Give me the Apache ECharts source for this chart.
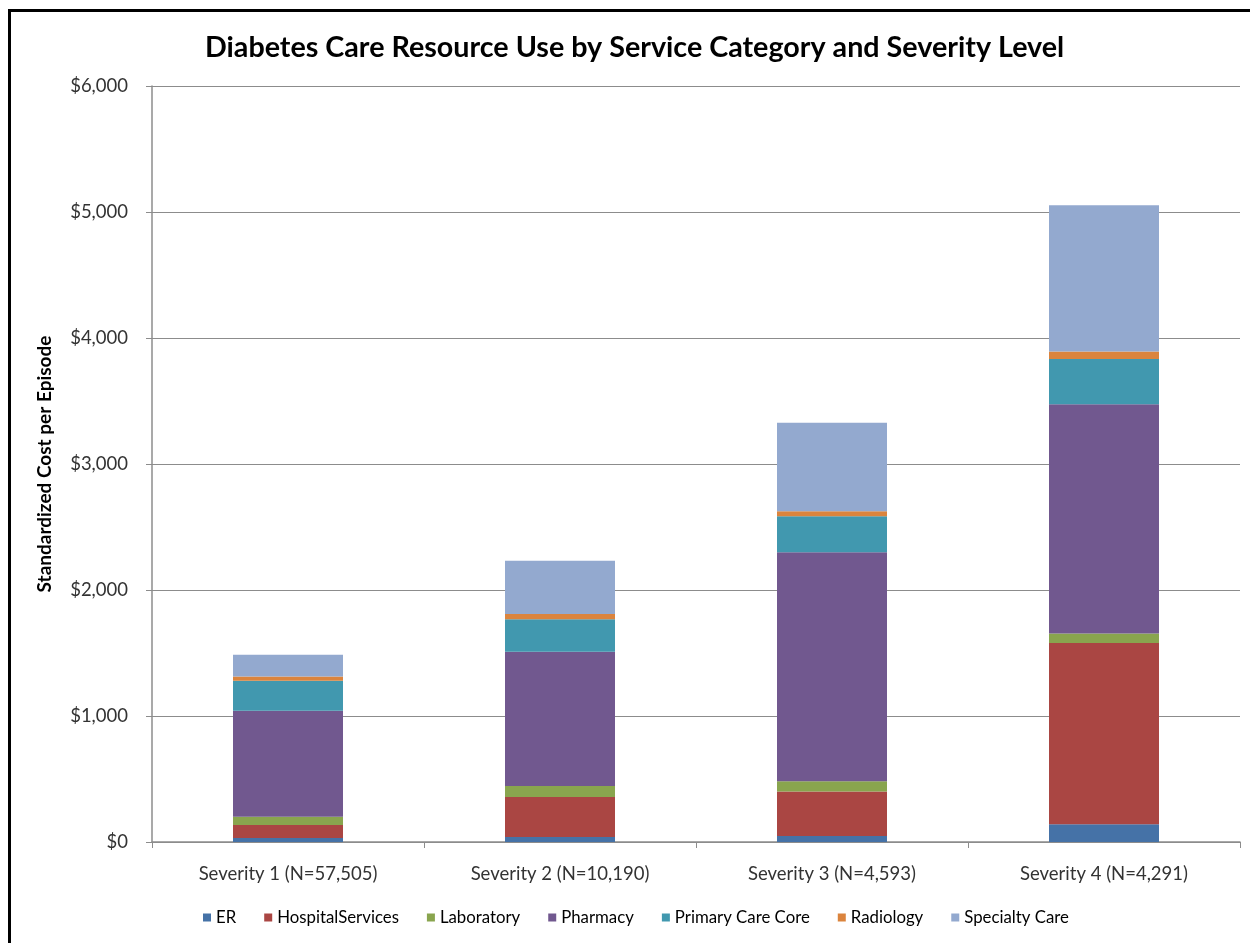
<!DOCTYPE html>
<html>
<head>
<meta charset="utf-8">
<title>Diabetes Care Resource Use by Service Category and Severity Level</title>
<script src="https://cdn.jsdelivr.net/npm/echarts@6/dist/echarts.min.js"></script>
<style>
  html, body { margin: 0; padding: 0; background: #ffffff; overflow: hidden; }
  #frame {
    position: absolute; left: 8px; top: 9px; width: 1400px; height: 1100px;
    border-left: 3px solid #000; border-top: 3px solid #000; box-sizing: border-box;
  }
  #chart { position: absolute; left: 0; top: 0; width: 1250px; height: 943px; }
</style>
</head>
<body>
<div id="frame"></div>
<div id="chart"></div>
<script>
// Severity groups (x-axis categories)
const categories = [
  'Severity 1 (N=57,505)',
  'Severity 2 (N=10,190)',
  'Severity 3 (N=4,593)',
  'Severity 4 (N=4,291)'
];

// Standardized cost per episode, by service category (USD)
const er               = [32, 40, 48, 141];
const hospitalServices = [103, 318, 352, 1438];
const laboratory       = [66, 87, 82, 76];
const pharmacy         = [840, 1065, 1817, 1820];
const primaryCareCore  = [239, 257, 286, 358];
const radiology        = [34, 43, 40, 59];
const specialtyCare    = [172, 423, 702, 1162];

// Y-axis ticks
const yTicks = [0, 1000, 2000, 3000, 4000, 5000, 6000];

const seriesDefs = [
  { name: 'ER', data: er, color: '#4572A7' },
  { name: 'HospitalServices', data: hospitalServices, color: '#AA4643' },
  { name: 'Laboratory', data: laboratory, color: '#89A54E' },
  { name: 'Pharmacy', data: pharmacy, color: '#71588F' },
  { name: 'Primary Care Core', data: primaryCareCore, color: '#4198AF' },
  { name: 'Radiology', data: radiology, color: '#DB843D' },
  { name: 'Specialty Care', data: specialtyCare, color: '#93A9CF' }
];

const FONT = 'Lato, "Open Sans", sans-serif';

const chart = echarts.init(document.getElementById('chart'), null, { renderer: 'canvas' });

chart.setOption({
  animation: false,
  backgroundColor: 'transparent',
  textStyle: { fontFamily: FONT },
  title: {
    text: 'Diabetes Care Resource Use by Service Category and Severity Level',
    left: 200,
    top: 28,
    textStyle: { fontFamily: FONT, fontSize: 28.7, fontWeight: 'bold', color: '#000' }
  },
  legend: {
    bottom: 12,
    left: 198,
    itemWidth: 8,
    itemHeight: 8,
    itemGap: 28,
    icon: 'rect',
    textStyle: { fontFamily: FONT, fontSize: 16.8, color: '#000' },
    data: seriesDefs.map(s => s.name)
  },
  grid: { left: 152, right: 10, top: 86, bottom: 101, containLabel: false },
  xAxis: {
    type: 'category',
    data: categories,
    axisLine: { lineStyle: { color: '#8c8c8c', width: 1.5 } },
    axisTick: { show: true, length: 6, inside: false, lineStyle: { color: '#8c8c8c' } },
    axisLabel: { fontFamily: FONT, fontSize: 18.5, color: '#333', margin: 23 }
  },
  yAxis: {
    type: 'value',
    min: yTicks[0],
    max: yTicks[yTicks.length - 1],
    interval: 1000,
    name: 'Standardized Cost per Episode',
    nameLocation: 'middle',
    nameGap: 98,
    nameTextStyle: { fontFamily: FONT, fontSize: 19, fontWeight: 'bold', color: '#000' },
    axisLine: { show: true, lineStyle: { color: '#8c8c8c', width: 1.5 } },
    axisTick: { show: true, length: 6, lineStyle: { color: '#8c8c8c' } },
    splitLine: { show: true, lineStyle: { color: '#8c8c8c', width: 1.2 } },
    axisLabel: {
      fontFamily: FONT, fontSize: 18.5, color: '#333', margin: 24,
      formatter: v => '$' + v.toLocaleString('en-US')
    }
  },
  series: seriesDefs.map(s => ({
    name: s.name,
    type: 'bar',
    stack: 'cost',
    barWidth: 110,
    data: s.data,
    itemStyle: { color: s.color },
    emphasis: { disabled: true }
  }))
});
</script>
</body>
</html>
